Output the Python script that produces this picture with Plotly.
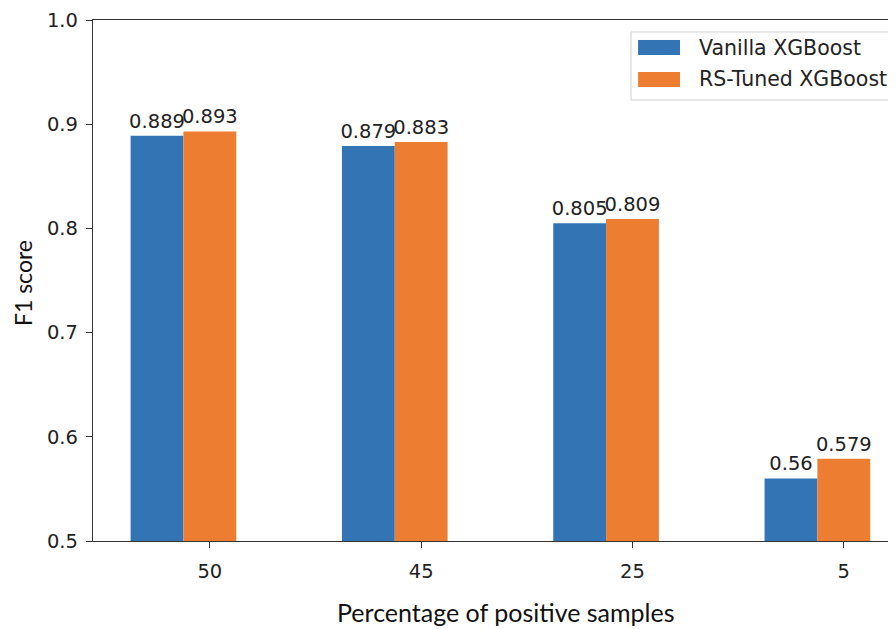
import plotly.graph_objects as go

categories = ["50", "45", "25", "5"]
vanilla = [0.889, 0.879, 0.805, 0.56]
rs_tuned = [0.893, 0.883, 0.809, 0.579]
series_names = ["Vanilla XGBoost", "RS-Tuned XGBoost"]
y_ticks = [0.5, 0.6, 0.7, 0.8, 0.9, 1.0]
x_title = "Percentage of positive samples"
y_title = "F1 score"

x_pos = list(range(len(categories)))
BLUE = "#3274B4"
ORANGE = "#ED7D31"
colors = [BLUE, ORANGE]
TICK_FONT = dict(family="DejaVu Sans", size=19.5, color="#222222")
LEG_FONT = dict(family="DejaVu Sans", size=20.5, color="#222222")
TITLE_FONT = dict(family="Lato", size=25, color="#111111")

fig = go.Figure()
for name, vals, col, off in zip(series_names, [vanilla, rs_tuned], colors, [-0.375, -0.125]):
    fig.add_trace(go.Bar(
        x=x_pos, y=vals, name=name,
        base=0, width=0.25, offset=off,
        marker=dict(color=col, line=dict(width=0)),
        text=[f"{v:g}" for v in vals], textposition="outside",
        textfont=TICK_FONT, cliponaxis=False, constraintext="none",
        showlegend=False,
    ))

# legend drawn manually (matplotlib-style wide patches)
shapes = [dict(type="rect", xref="paper", yref="paper", x0=0.670, x1=0.9988, y0=0.8464, y1=0.977,
               line=dict(color="#D0D0D0", width=1), fillcolor="white", layer="above")]
annotations = []
patch_y = [(0.9328, 0.9616), (0.8714, 0.9002)]
text_y = [0.9463, 0.8868]
for name, col, (py0, py1), ty in zip(series_names, colors, patch_y, text_y):
    shapes.append(dict(type="rect", xref="paper", yref="paper", x0=0.6788, x1=0.7310, y0=py0, y1=py1,
                       line=dict(width=0), fillcolor=col, layer="above"))
    annotations.append(dict(text=name, xref="paper", yref="paper", x=0.7522, y=ty,
                            xanchor="left", yanchor="middle", showarrow=False, font=LEG_FONT))

annotations.append(dict(text=x_title, xref="paper", yref="paper", x=0.514, y=-0.136,
                        xanchor="center", yanchor="middle", showarrow=False, font=TITLE_FONT))
annotations.append(dict(text=y_title, xref="paper", yref="paper", x=-0.0872, y=0.495,
                        xanchor="center", yanchor="middle", showarrow=False, textangle=-90,
                        font=dict(family="Lato", size=23, color="#111111")))

# the page body has an 8px margin, so the figure is 8px smaller to fill the window
fig.update_layout(
    width=888, height=621,
    margin=dict(l=85, r=0, t=12, b=88, autoexpand=False),
    paper_bgcolor="white", plot_bgcolor="white",
    barmode="overlay",
    showlegend=False,
    shapes=shapes,
    annotations=annotations,
    xaxis=dict(
        range=[-0.553, 3.247], automargin=False,
        tickvals=x_pos, ticktext=categories,
        showline=True, mirror=True, linecolor="#333333", linewidth=1.3,
        ticks="outside", ticklen=6, tickwidth=1.3, tickcolor="#333333",
        tickfont=TICK_FONT, showgrid=False, zeroline=False,
        ticklabelstandoff=6,
    ),
    yaxis=dict(
        range=[0.5, 1.0], automargin=False,
        tickvals=y_ticks, ticktext=[f"{v:.1f}" for v in y_ticks],
        showline=True, mirror=False, linecolor="#333333", linewidth=1.3,
        ticks="outside", ticklen=6, tickwidth=1.3, tickcolor="#333333",
        tickfont=TICK_FONT, showgrid=False, zeroline=False,
        ticklabelstandoff=4,
    ),
)

fig.write_html("out.html")
